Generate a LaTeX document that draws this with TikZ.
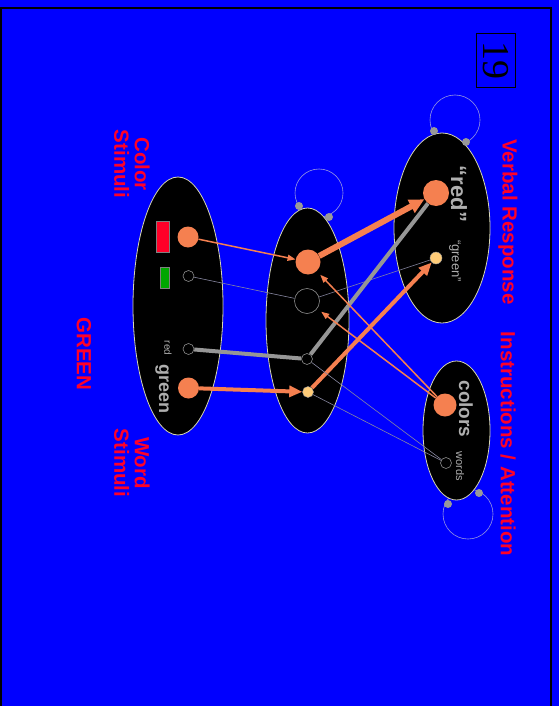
\documentclass[tikz,border=0pt]{standalone}
\usepackage{fontspec}
\setmainfont{Liberation Serif}
\setsansfont{Liberation Sans}
\usetikzlibrary{arrows.meta, shapes.geometric, positioning}
\definecolor{slide}{RGB}{0,0,255}
\definecolor{hot}{RGB}{245,128,80}
\definecolor{warm}{RGB}{255,204,120}
\definecolor{wire}{RGB}{150,150,150}
\definecolor{faint}{RGB}{135,135,160}
\definecolor{loopc}{RGB}{150,150,225}
\definecolor{rim}{RGB}{215,215,180}
\definecolor{title}{RGB}{255,0,40}
\definecolor{tag}{RGB}{175,175,175}
\newcommand{\fs}[1]{\fontsize{#1}{#1}\selectfont}

\begin{document}
\begin{tikzpicture}[
    x=1pt, y=-1pt,
    every node/.style={font=\sffamily},
    layer/.style={draw=rim, fill=black, ellipse, line width=0.8pt, inner sep=0pt},
    unit/.style={circle, inner sep=0pt},
    hotunit/.style={unit, fill=hot},
    warmunit/.style={unit, fill=warm, draw=black!40, line width=0.4pt},
    idleunit/.style={unit, fill=black, draw=black!45!white, line width=0.6pt},
    knob/.style={circle, fill=black!40!white, inner sep=0pt, minimum size=8pt},
    swatch/.style={draw=black!50!white, line width=0.5pt, inner sep=0pt},
    headline/.style={rotate=-90, text=title, font=\sffamily\bfseries\fs{20.5}, align=center},
    tagtext/.style={rotate=-90, text=tag},
    selfloop/.style={draw=loopc, line width=0.6pt},
    weak/.style={draw=faint, line width=0.6pt},
    strong/.style={draw=wire, line width=4pt},
    push/.style={draw=hot, line width=1.5pt, -{Triangle[length=8pt, width=6pt]}},
    shove/.style={draw=hot, line width=4pt, -{Triangle[length=13pt, width=11pt]}},
]
\useasboundingbox (0,0) rectangle (559,706);
\fill[slide] (0,0) rectangle (559,706);
\draw[line width=2pt] (1,706) -- (1,8) -- (551,8) -- (551,706);

% slide number
\node[draw, line width=1pt, rotate=-90, minimum width=54pt, minimum height=39pt,
      font=\rmfamily\fs{38}] (num) at (495.5,61) {19};

% recurrent loops sit behind the layers
\coordinate (respLoop) at (455,120);
\coordinate (hidLoop)  at (319,193);
\coordinate (taskLoop) at (468,514);
\draw[selfloop] (respLoop) circle[radius=25];
\draw[selfloop] (hidLoop)  circle[radius=24];
\draw[selfloop] (taskLoop) circle[radius=25];

% layers
\node[layer, minimum width=90pt, minimum height=258pt] (inp)  at (178,306) {};
\node[layer, minimum width=83pt, minimum height=225pt] (hid)  at (307.5,320.5) {};
\node[layer, minimum width=96pt, minimum height=190pt] (resp) at (442,228) {};
\node[layer, minimum width=67pt, minimum height=139pt] (task) at (456.5,430.5) {};

\node[knob] (respK1) at (434,131) {};
\node[knob] (respK2) at (466,142) {};
\node[knob] (hidK1)  at (299,206) {};
\node[knob] (hidK2)  at (329,217) {};
\node[knob] (taskK1) at (448,504) {};
\node[knob] (taskK2) at (479,493) {};

% input units
\node[swatch, fill=title, minimum width=13pt, minimum height=31pt] (swRed) at (162.5,236.5) {};
\node[swatch, fill=green!65!black, minimum width=9pt, minimum height=21pt] (swGreen) at (164.5,277.5) {};
\node[hotunit,  minimum size=21pt] (cRed)   at (188,237) {};
\node[idleunit, minimum size=11pt] (cGreen) at (188.5,276) {};
\node[idleunit, minimum size=11pt] (wRed)   at (188.5,349) {};
\node[hotunit,  minimum size=21pt] (wGreen) at (188.5,388) {};
\node[tagtext, font=\sffamily\fs{10}] (tRed) at (168,348) {red};
\node[tagtext, font=\sffamily\bfseries\fs{18}] (tGreen) at (162,389) {green};

% hidden units
\node[hotunit,  minimum size=25pt] (hA) at (308,262) {};
\node[idleunit, minimum size=25pt] (hB) at (307,301) {};
\node[idleunit, minimum size=11pt] (hC) at (307,359) {};
\node[warmunit, minimum size=11pt] (hD) at (308,392) {};

% response units
\node[hotunit,  minimum size=26pt] (rRed)   at (436,193) {};
\node[warmunit, minimum size=12pt] (rGreen) at (436,258) {};
\node[tagtext, font=\sffamily\bfseries\fs{22}] (tSayRed) at (459,194) {“red”};
\node[tagtext, font=\sffamily\fs{13}] (tSayGreen) at (455,261) {“green”};

% task units
\node[hotunit,  minimum size=23pt] (tCol)  at (445,405) {};
\node[idleunit, minimum size=11pt] (tWord) at (446,463) {};
\node[tagtext, font=\sffamily\bfseries\fs{19}] (tColors) at (466,409) {colors};
\node[tagtext, font=\sffamily\fs{11}] (tWords) at (460,466) {words};

% weights
\draw[push] (cRed) -- (hA);
\draw[weak] (cGreen) -- (hB);
\draw[strong] (wRed) -- (hC);
\draw[shove] (wGreen) -- (hD);
\draw[weak] (hB) -- (rGreen);
\draw[strong] (hC) -- (rRed);
\draw[shove, line width=6pt, -{Triangle[length=15pt, width=14pt]}] (hA) -- (rRed);
\draw[shove] (hD) -- (rGreen);
\draw[weak] (tWord) -- (hC);
\draw[weak] (tWord) -- (hD);
\draw[push, shorten >=5pt] (tCol) -- (hA);
\draw[push, shorten >=5pt] (tCol) -- (hB);

% labels
\node[headline] (lblResp)  at (508,222) {Verbal Response};
\node[headline] (lblTask)  at (508,444) {Instructions / Attention};
\node[headline] (lblColor) at (132,164) {Color\\Stimuli};
\node[headline] (lblWord)  at (132,463) {Word\\Stimuli};
\node[headline] (lblShown) at (84,354)  {GREEN};
\end{tikzpicture}
\end{document}
